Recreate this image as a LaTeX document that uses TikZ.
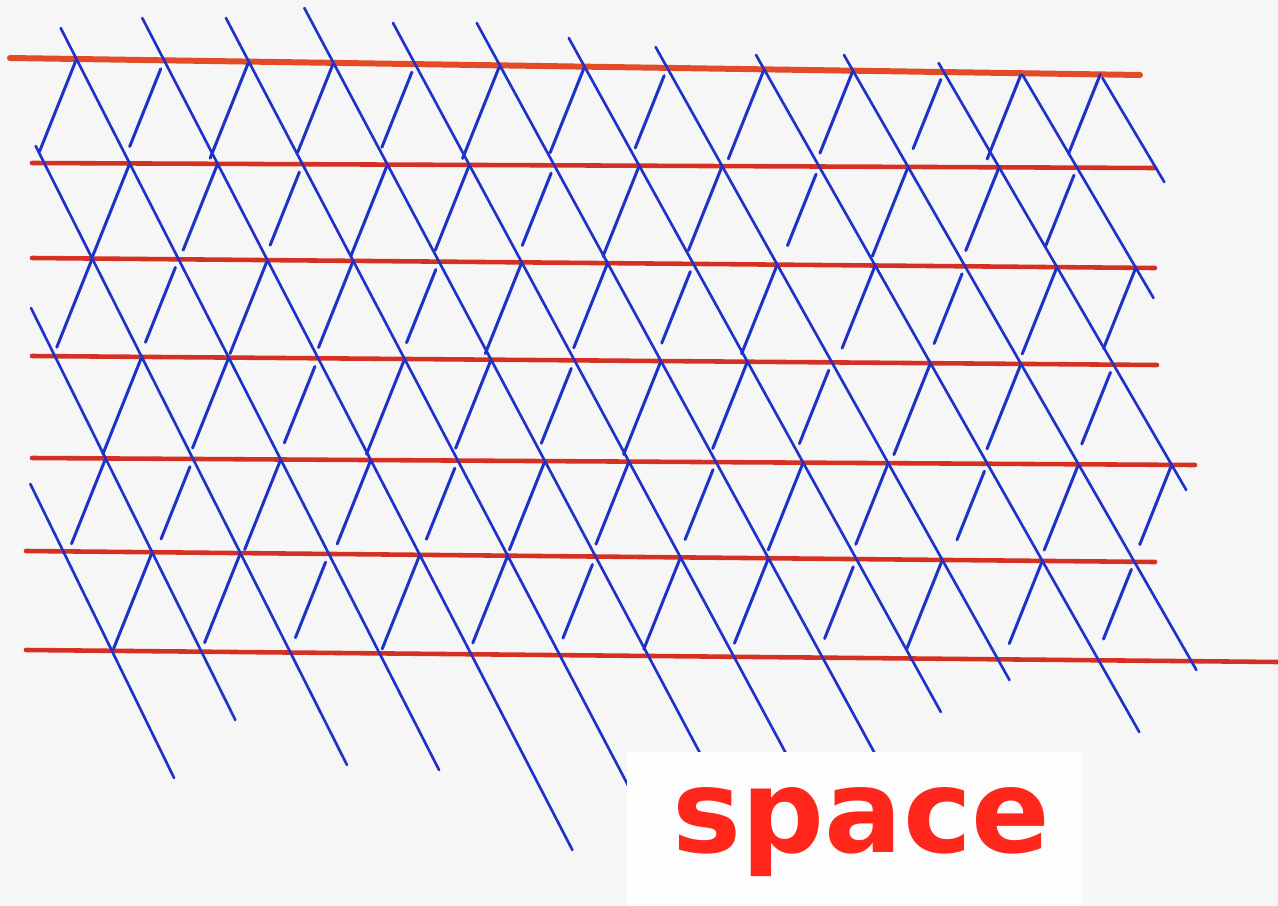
\documentclass[tikz,border=0pt]{standalone}
\usepackage{fontspec}
\newfontfamily\markerfont{DejaVu Sans}
\usetikzlibrary{calc}

\definecolor{inkred}{RGB}{214,48,34}
\definecolor{inkorange}{RGB}{226,74,40}
\definecolor{inkblue}{RGB}{30,50,200}
\definecolor{feltred}{RGB}{255,38,28}
\definecolor{paper}{RGB}{246,246,246}
\definecolor{patch}{RGB}{253,253,253}

% red rows: index / left x / left y / right x / right y / mean y of next row
\def\rowlist{0/10/58/1140/75/165.5, 1/32/163/1155/168/263, 2/32/258/1155/268/360.5,
  3/32/356/1157/365/461.5, 4/32/458/1195/465/556.5, 5/26/551/1155/562/656}
% blue lines: index / x at y=62 / start y / end y
\def\bluelist{-3/-176/484/778, -2/-91/308/720, -1/-6.6/146/765, 0/78/28/770,
  1/165/18/850, 2/249/18/800, 3/333/8/760, 4/414/23/760, 5/498/23/760,
  6/582/38/712, 7/664/47/680, 8/760/55/732, 9/848/55/670, 10/938/63/490,
  11/1015/75/298, 12/1093/78/182}

\begin{document}
\begin{tikzpicture}[x=0.01cm, y=-0.01cm,
    redrule/.style={draw=inkred, line width=1.3pt, line cap=round},
    blueline/.style={draw=inkblue, line width=0.75pt, line cap=round},
    tick/.style={draw=inkblue, line width=0.85pt, line cap=round}]
  \fill[paper] (0,0) rectangle (1278,906);
  \useasboundingbox (0,0) rectangle (1278,906);

  % red rows
  \draw[redrule, draw=inkorange, line width=1.7pt] (10,58) -- (1140,75);
  \foreach \xl/\yl/\xr/\yr in {32/163/1155/168, 32/258/1155/268, 32/356/1157/365,
      32/458/1195/465, 26/551/1155/562, 26/650/1278/662}
    \draw[redrule] (\xl,\yl) -- (\xr,\yr);

  % long blue lines
  \foreach \j/\xo/\ys/\ye in \bluelist {
    \pgfmathsetmacro\s{0.51+0.007*\j}
    \draw[blueline] ({\xo+\s*(\ys-62)},\ys) -- ({\xo+\s*(\ye-62)},\ye);
  }

  % short strokes in the cells
  \foreach \r/\xl/\yl/\xr/\yr/\yn in \rowlist {
    \foreach \j/\xo/\ys/\ye in \bluelist {
      \pgfmathsetmacro\s{0.51+0.007*\j}
      \pgfmathsetmacro\xa{\xo+\s*((\yl+\yr)/2-62)}
      \pgfmathsetmacro\ya{\yl+(\yr-\yl)/(\xr-\xl)*(\xa-\xl)}
      \pgfmathsetmacro\xa{\xo+\s*(\ya-62)}
      \pgfmathtruncatemacro\keep{(\xa>=70)&&(\ye>\ya+20)&&(\ys<\ya+10) ? 1 : 0}
      \ifnum\keep=1
        \pgfmathtruncatemacro\k{mod(\j+2*\r+9,3)}
        \pgfmathsetmacro\ta{{0,0.08,0.02}[\k]}
        \pgfmathsetmacro\tb{{0.87,0.82,0.93}[\k]}
        \pgfmathsetmacro\xb{\xa-0.4*(\yn-\ya)}
        \draw[tick] ($(\xa,\ya)!\ta!(\xb,\yn)$) -- ($(\xa,\ya)!\tb!(\xb,\yn)$);
      \fi
    }
  }

  % whiter patch under the word
  \fill[patch] (627,752) rectangle (1082,906);
  \node[font=\markerfont\bfseries\fontsize{33}{33}\selectfont, text=feltred,
    anchor=base west, inner sep=0pt] (word) at (672,852) {space};
\end{tikzpicture}
\end{document}
